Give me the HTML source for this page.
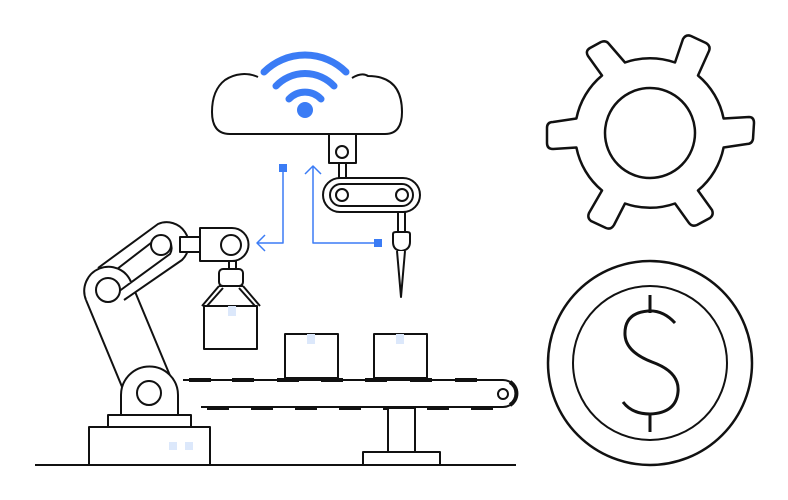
<!DOCTYPE html>
<html><head><meta charset="utf-8"><style>html,body{margin:0;padding:0;background:#fff}svg{display:block}</style></head>
<body>
<svg width="788" height="500" viewBox="0 0 788 500" xmlns="http://www.w3.org/2000/svg" fill="none" stroke="#111" stroke-width="2" stroke-linejoin="round">
<!-- ground -->
<line x1="35" y1="465" x2="516" y2="465"/>
<!-- robot base -->
<rect x="89" y="427" width="121" height="38" fill="#fff"/>
<rect x="108" y="415" width="83" height="12" fill="#fff"/>
<rect x="169" y="442" width="8" height="8" fill="#dce8fb" stroke="none"/>
<rect x="185" y="442" width="8" height="8" fill="#dce8fb" stroke="none"/>
<!-- lower arm -->
<path d="M86,298 L124,395 L172,378 L132,280 Z" fill="#fff" stroke="none"/>
<line x1="86" y1="300" x2="125" y2="394"/>
<line x1="131" y1="282" x2="171" y2="378"/>
<!-- lower joint -->
<path d="M121,415 V395 A28,28 0 0 1 178,395 V415 Z" fill="#fff"/>
<circle cx="149" cy="393" r="12" fill="#fff"/>
<!-- upper arm -->
<path d="M98,268 L158,224 A22,22 0 0 1 182,260 L124,300" fill="#fff"/>
<path d="M108,276 L160,236 A12,12 0 0 1 170,254 L118,292" fill="none"/>
<circle cx="161" cy="245" r="10" fill="#fff"/>
<!-- lower arm top lobe -->
<path d="M86,300 A24,24 0 1 1 131,282" fill="#fff"/>
<circle cx="108" cy="290" r="12" fill="#fff"/>
<!-- connector & head -->
<rect x="180" y="237" width="21" height="15" fill="#fff"/>
<path d="M200,228 H232 A16.5,16.5 0 0 1 232,261 H200 Z" fill="#fff"/>
<circle cx="231" cy="245" r="10" fill="#fff"/>
<!-- gripper -->
<rect x="229" y="261" width="7" height="9" fill="#fff"/>
<rect x="219" y="269" width="24" height="17" rx="4" fill="#fff"/>
<path d="M219,286 L202,306 M243,286 L260,306 M223,288 L207,306 M239,288 L255,306"/>
<path d="M219,286 H243"/>
<rect x="204" y="306" width="53" height="43" fill="#fff"/>
<rect x="228" y="306" width="8" height="10" fill="#dce8fb" stroke="none"/>
<!-- conveyor boxes -->
<rect x="285" y="334" width="53" height="44" fill="#fff"/>
<rect x="307" y="334" width="8" height="10" fill="#dce8fb" stroke="none"/>
<rect x="374" y="334" width="53" height="44" fill="#fff"/>
<rect x="396" y="334" width="8" height="10" fill="#dce8fb" stroke="none"/>
<!-- conveyor -->
<path d="M183,380 H503 A13.5,13.5 0 0 1 503,407 H201"/>
<path d="M510,382 A13.5,13.5 0 0 1 510,405" stroke-width="4"/>
<circle cx="503" cy="394" r="5"/>
<g stroke-width="4">
<path d="M189,380h22 M232,380h22 M277,380h22 M321,380h22 M365,380h22 M410,380h22 M455,380h22"/>
<path d="M207,408h22 M251,408h22 M295,408h22 M339,408h22 M383,408h22 M427,408h22 M471,408h22"/>
</g>
<rect x="388" y="408" width="27" height="44" fill="#fff"/>
<rect x="363" y="452" width="77" height="13" fill="#fff"/>
<!-- cloud -->
<path d="M258,77 A34,34 0 0 0 225,80 Q212,90 212,112 Q212,134 230,134 H385 Q402,134 402,112 Q402,76 368,76 Q362,72 352,78"/>
<g stroke="#3b7cf5" stroke-width="7" stroke-linecap="round">
<path d="M264,72 A58,58 0 0 1 346,72"/>
<path d="M276,86 A40,40 0 0 1 334,86"/>
<path d="M289,99 A22,22 0 0 1 321,99"/>
</g>
<circle cx="305" cy="110" r="8" fill="#3b7cf5" stroke="none"/>
<!-- top robot -->
<rect x="329" y="134" width="27" height="29" fill="#fff"/>
<circle cx="342" cy="152" r="6"/>
<rect x="339" y="163" width="7" height="15" fill="#fff"/>
<rect x="323" y="178" width="97" height="34" rx="17" fill="#fff"/>
<rect x="330" y="184" width="83" height="22" rx="11"/>
<circle cx="342" cy="195" r="6"/>
<circle cx="402" cy="195" r="6"/>
<rect x="398" y="212" width="7" height="20" fill="#fff"/>
<path d="M393,234 Q393,232 396,232 H407 Q410,232 410,234 V242 Q410,250 401,251 Q393,250 393,242 Z" fill="#fff"/>
<path d="M397,251 L401,297 L405,251" fill="#fff"/>
<!-- blue connectors -->
<g stroke="#3b7cf5" stroke-width="1.5">
<path d="M283,168 V243 H257"/>
<path d="M265,235 L257,243 L265,251"/>
<path d="M313,166 V243 H378"/>
<path d="M305,174 L313,166 L321,174"/>
</g>
<rect x="279" y="164" width="8" height="8" fill="#3b7cf5" stroke="none"/>
<rect x="374" y="239" width="8" height="8" fill="#3b7cf5" stroke="none"/>
<!-- gear -->
<g transform="translate(650,133)" stroke-width="2.5">
<path id="g" d=""/>
<circle r="45"/>
</g>
<path stroke-width="2.5" d="
M 725.0,133.0
" />
<g transform="translate(650,133)" stroke-width="2.5" fill="#fff">
<path d="
M 73.6,-14.5 L 99,-16 Q 104,-16 104,-10 L 103,6 Q 102,11 97,11 L 73.6,14.5
A 75,75 0 0 1 48,57.5 L 62,77 Q 64,82 60,85 L 47,92 Q 42,94 39,90 L 25,70.5
A 75,75 0 0 1 -25,70.5 L -36,92 Q -39,97 -44,95 L -59,88 Q -63,85 -61,80 L -48,57.5
A 75,75 0 0 1 -73.6,14.5 L -97,16 Q -103,16 -103,10 L -103,-5 Q -103,-11 -97,-11 L -73.6,-14.5
A 75,75 0 0 1 -48,-57.5 L -62,-77 Q -65,-82 -60,-85 L -49,-91 Q -44,-93 -41,-89 L -25,-70.5
A 75,75 0 0 1 25,-70.5 L 33,-94 Q 36,-99 41,-97 L 56,-90 Q 61,-87 59,-82 L 48,-57.5
A 75,75 0 0 1 73.6,-14.5 Z"/>
<circle r="45"/>
</g>
<!-- coin -->
<circle cx="650" cy="363" r="102" stroke-width="2.5"/>
<circle cx="650" cy="363" r="77" stroke-width="2"/>
<path d="M650,295 V313 M650,414 V432" stroke-width="3"/>
<path d="M675,323 Q663,310 648,311 Q624,313 625,335 Q626,352 652,362 Q680,372 678,392 Q676,413 650,414 Q632,414 623,402" stroke-width="3"/>
</svg>
</body></html>
